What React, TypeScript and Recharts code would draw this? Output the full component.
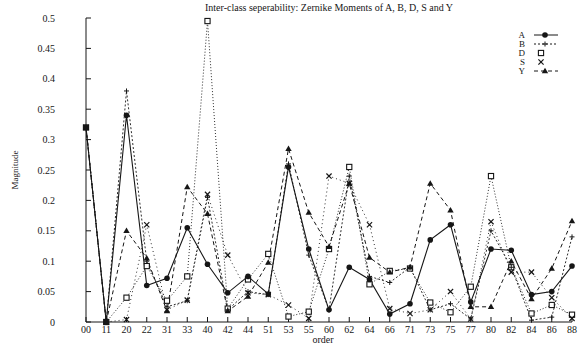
import React from 'react';
import { LineChart, Line, XAxis, YAxis } from 'recharts';

const orders = ['00', '11', '20', '22', '31', '33', '40', '42', '44', '51', '53', '55', '60', '62', '64', '66', '71', '73', '75', '77', '80', '82', '84', '86', '88'];
const seriesA = [0.32, 0, 0.34, 0.06, 0.072, 0.155, 0.095, 0.048, 0.075, 0.046, 0.255, 0.12, 0.02, 0.09, 0.07, 0.013, 0.03, 0.135, 0.16, 0.033, 0.12, 0.118, 0.045, 0.05, 0.092];
const seriesB = [0.32, 0, 0.38, 0.1, 0.025, 0.035, 0.205, 0.02, 0.05, 0.045, 0.26, 0.11, 0.02, 0.24, 0.075, 0.065, 0.09, 0.02, 0.03, 0.005, 0.15, 0.09, 0.003, 0.008, 0.14];
const seriesD = [0.32, 0, 0.04, 0.092, 0.035, 0.075, 0.495, 0.022, 0.07, 0.112, 0.009, 0.017, 0.12, 0.255, 0.062, 0.084, 0.088, 0.032, 0.016, 0.058, 0.24, 0.09, 0.014, 0.028, 0.012];
const seriesS = [0.32, 0, 0.004, 0.16, 0.02, 0.036, 0.21, 0.11, 0.048, 0.045, 0.028, 0.006, 0.24, 0.228, 0.16, 0.022, 0.014, 0.02, 0.05, 0.005, 0.165, 0.082, 0.082, 0.04, 0.006];
const seriesY = [0.32, 0, 0.15, 0.105, 0.018, 0.222, 0.178, 0.018, 0.042, 0.098, 0.285, 0.18, 0.124, 0.228, 0.106, 0.082, 0.09, 0.228, 0.184, 0.025, 0.025, 0.1, 0.038, 0.088, 0.166];
const yTicks = [0, 0.05, 0.1, 0.15, 0.2, 0.25, 0.3, 0.35, 0.4, 0.45, 0.5];
const yTickLabels = ['0', '0.05', '0.1', '0.15', '0.2', '0.25', '0.3', '0.35', '0.4', '0.45', '0.5'];

const title = 'Inter-class seperability: Zernike Moments of A, B, D, S and Y';

const data = orders.map((o, i) => ({
  order: o,
  A: seriesA[i],
  B: seriesB[i],
  D: seriesD[i],
  S: seriesS[i],
  Y: seriesY[i],
}));

const INK = '#161616';
const FONT = '"Liberation Serif", "DejaVu Serif", serif';

function marker(shape: string, cx: number, cy: number, key?: string) {
  switch (shape) {
    case 'circle':
      return <circle key={key} cx={cx} cy={cy} r={2.8} fill={INK} stroke="none" />;
    case 'plus':
      return (
        <g key={key}>
          <line x1={cx - 2.5} y1={cy} x2={cx + 2.5} y2={cy} stroke={INK} strokeWidth={1} />
          <line x1={cx} y1={cy - 2.5} x2={cx} y2={cy + 2.5} stroke={INK} strokeWidth={1} />
        </g>
      );
    case 'square':
      return <rect key={key} x={cx - 2.6} y={cy - 2.6} width={5.2} height={5.2} fill="#fff" stroke={INK} strokeWidth={1.1} />;
    case 'cross':
      return (
        <g key={key}>
          <line x1={cx - 2.6} y1={cy - 2.6} x2={cx + 2.6} y2={cy + 2.6} stroke={INK} strokeWidth={1.2} />
          <line x1={cx - 2.6} y1={cy + 2.6} x2={cx + 2.6} y2={cy - 2.6} stroke={INK} strokeWidth={1.2} />
        </g>
      );
    case 'triangle':
      return <polygon key={key} points={`${cx},${cy - 3.2} ${cx - 3.2},${cy + 2.3} ${cx + 3.2},${cy + 2.3}`} fill={INK} stroke="none" />;
    default:
      return null;
  }
}

const makeDot = (shape: string) => (p: any) => {
  if (p.cx == null || p.cy == null) return <g key={`e-${shape}-${p.index}`} />;
  return marker(shape, p.cx, p.cy, `${shape}-${p.index}`);
};

const legendItems = [
  { name: 'A', shape: 'circle', dash: undefined as string | undefined, line: true },
  { name: 'B', shape: 'plus', dash: '2 2', line: true },
  { name: 'D', shape: 'square', dash: '1 2', line: false },
  { name: 'S', shape: 'cross', dash: '1 2', line: false },
  { name: 'Y', shape: 'triangle', dash: '4 3', line: true },
];

const tickStyle = { fontFamily: FONT, fontSize: 10, fill: INK };

export default function App() {
  return (
    <div style={{ position: 'absolute', left: 0, top: 0, width: 579, height: 350, background: '#fff' }}>
      <div
        style={{
          position: 'absolute',
          left: 86,
          width: 486,
          top: 2,
          textAlign: 'center',
          fontFamily: FONT,
          fontSize: 10,
          color: INK,
          lineHeight: '12px',
          zIndex: 2,
        }}
      >
        {title}
      </div>
      <svg width={60} height={50} style={{ position: 'absolute', left: 512, top: 29, zIndex: 2 }}>
        {legendItems.map((it, i) => {
          const y = 6 + i * 9;
          return (
            <g key={it.name}>
              <text x={13} y={y} dy="0.35em" textAnchor="end" fontFamily={FONT} fontSize={9} fill={INK}>
                {it.name}
              </text>
              {it.line && (
                <line x1={22} y1={y} x2={46} y2={y} stroke={INK} strokeWidth={1} strokeDasharray={it.dash} />
              )}
              {marker(it.shape, it.line ? 33 : 29, y)}
            </g>
          );
        })}
      </svg>
      <LineChart width={579} height={350} data={data} margin={{ top: 18, right: 7, bottom: 0, left: 0 }}>
        <XAxis
          xAxisId="bottom"
          dataKey="order"
          interval={0}
          tickSize={-5}
          tickMargin={9}
          height={28}
          stroke={INK}
          tick={tickStyle}
          label={(props: any) => {
            const vb = props.viewBox;
            return (
              <text x={vb.x + vb.width / 2 - 6} y={343} textAnchor="middle" fontFamily={FONT} fontSize={10} fill={INK}>
                order
              </text>
            );
          }}
        />
        <XAxis xAxisId="top" dataKey="order" orientation="top" interval={0} tick={false} tickSize={-5} height={0} stroke={INK} />
        <YAxis
          yAxisId="left"
          domain={[0, 0.5]}
          ticks={yTicks}
          interval={0}
          width={86}
          tickSize={-5}
          tickMargin={36}
          stroke={INK}
          tick={tickStyle}
          tickFormatter={(v: number) => yTickLabels[yTicks.indexOf(v)] ?? String(v)}
          label={(props: any) => {
            const vb = props.viewBox;
            const cy = vb.y + vb.height / 2;
            return (
              <text x={18} y={cy} transform={`rotate(-90, 18, ${cy})`} textAnchor="middle" fontFamily={FONT} fontSize={9} fill={INK}>
                Magnitude
              </text>
            );
          }}
        />
        <YAxis yAxisId="right" orientation="right" domain={[0, 0.5]} ticks={yTicks} interval={0} width={0} tick={false} tickSize={-5} stroke={INK} />
        <Line xAxisId="bottom" yAxisId="left" type="linear" dataKey="D" stroke={INK} strokeWidth={0.9} strokeDasharray="1 2" dot={makeDot('square')} isAnimationActive={false} />
        <Line xAxisId="bottom" yAxisId="left" type="linear" dataKey="S" stroke={INK} strokeWidth={0.9} strokeDasharray="1 3" dot={makeDot('cross')} isAnimationActive={false} />
        <Line xAxisId="bottom" yAxisId="left" type="linear" dataKey="B" stroke={INK} strokeWidth={0.9} strokeDasharray="2 2" dot={makeDot('plus')} isAnimationActive={false} />
        <Line xAxisId="bottom" yAxisId="left" type="linear" dataKey="Y" stroke={INK} strokeWidth={1} strokeDasharray="4 3" dot={makeDot('triangle')} isAnimationActive={false} />
        <Line xAxisId="bottom" yAxisId="left" type="linear" dataKey="A" stroke={INK} strokeWidth={1.1} dot={makeDot('circle')} isAnimationActive={false} />
      </LineChart>
    </div>
  );
}
